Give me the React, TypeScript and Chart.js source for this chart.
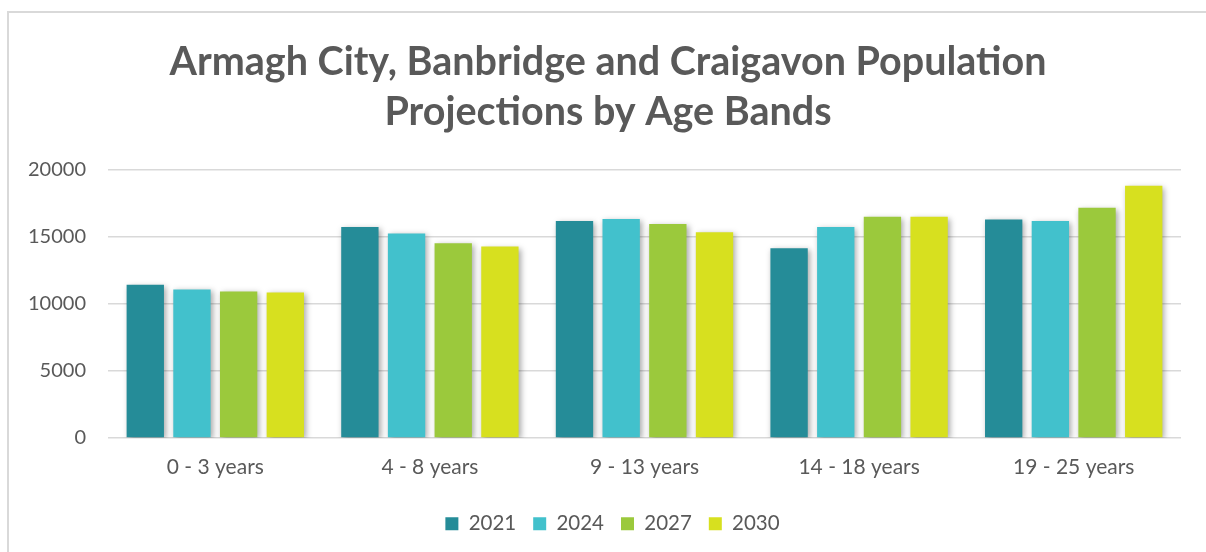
import React, { useEffect, useRef } from "react";
import { Chart, registerables } from "chart.js";

Chart.register(...registerables);

const categories = ["0 - 3 years", "4 - 8 years", "9 - 13 years", "14 - 18 years", "19 - 25 years"];
const years = ["2021", "2024", "2027", "2030"];
const values2021 = [11400, 15700, 16150, 14120, 16270];
const values2024 = [11060, 15230, 16300, 15700, 16150];
const values2027 = [10910, 14490, 15930, 16470, 17140];
const values2030 = [10840, 14250, 15310, 16470, 18770];
const colors = ["#258C98", "#42C1CC", "#9BC93C", "#D7E01F"];
const yTicks = [0, 5000, 10000, 15000, 20000];

const FONT = "Lato, 'Open Sans', sans-serif";

const shadowPlugin = {
  id: "barShadow",
  beforeDatasetsDraw(chart: any) {
    const ctx = chart.ctx;
    ctx.save();
    ctx.shadowColor = "rgba(0,0,0,0.35)";
    ctx.shadowBlur = 6;
    ctx.shadowOffsetX = 2;
    ctx.shadowOffsetY = 2;
  },
  afterDatasetsDraw(chart: any) {
    chart.ctx.restore();
  },
};

// centre the title and legend on the whole frame rather than on the padded area
const shiftPlugin = {
  id: "shiftBlocks",
  afterLayout(chart: any) {
    if (chart.titleBlock) {
      chart.titleBlock.left += 13.5;
      chart.titleBlock.right += 13.5;
    }
    if (chart.legend) {
      chart.legend.left += 18;
      chart.legend.right += 18;
      (chart.legend.legendHitBoxes || []).forEach((h: any) => (h.left += 18));
    }
  },
};

export default function App() {
  const ref = useRef<HTMLCanvasElement | null>(null);

  useEffect(() => {
    document.body.style.margin = "0";
    const canvas = ref.current;
    if (!canvas) return;
    const series = [values2021, values2024, values2027, values2030];
    const chart = new Chart(canvas, {
      type: "bar",
      data: {
        labels: categories,
        datasets: series.map((vals, i) => ({
          label: years[i],
          data: vals,
          backgroundColor: colors[i],
          borderWidth: 0,
          categoryPercentage: 0.87,
          barPercentage: 0.8,
        })),
      },
      options: {
        responsive: false,
        animation: false,
        layout: { padding: { top: 12, left: 8, right: 25, bottom: 8 } },
        plugins: {
          title: {
            display: true,
            text: ["Armagh City, Banbridge and Craigavon Population", "Projections by Age Bands"],
            color: "#595959",
            font: { family: FONT, size: 39.5, weight: "bold", lineHeight: 1.27 },
            padding: { top: 25, bottom: 32 },
          },
          legend: {
            position: "bottom",
            labels: {
              color: "#595959",
              font: { family: FONT, size: 20.5 },
              boxWidth: 13,
              boxHeight: 13,
              padding: 17,
            },
          },
          tooltip: { enabled: false },
        },
        scales: {
          x: {
            grid: { display: false, drawTicks: false },
            border: { display: false },
            ticks: { color: "#595959", font: { family: FONT, size: 21, lineHeight: 0.5 }, padding: 24 },
          },
          y: {
            min: 0,
            max: 20000,
            afterFit(scale: any) {
              scale.width = 100;
            },
            afterBuildTicks(scale: any) {
              scale.ticks = yTicks.map((v) => ({ value: v }));
            },
            grid: { color: "#D9D9D9", lineWidth: 1.5, drawTicks: false },
            border: { display: false },
            ticks: {
              color: "#595959",
              font: { family: FONT, size: 20 },
              padding: 22,
              callback: (v: any) => String(v),
            },
          },
        },
      },
      plugins: [shadowPlugin, shiftPlugin],
    });
    return () => chart.destroy();
  }, []);

  return (
    <div style={{ position: "relative", width: 1206, height: 552, background: "#fff", overflow: "hidden" }}>
      <canvas ref={ref} width={1206} height={552} style={{ position: "absolute", left: 0, top: 0 }} />
      <div
        style={{
          position: "absolute",
          left: 7,
          top: 11,
          right: -10,
          bottom: -10,
          borderTop: "2px solid #D9D9D9",
          borderLeft: "2px solid #D9D9D9",
          pointerEvents: "none",
        }}
      />
    </div>
  );
}
